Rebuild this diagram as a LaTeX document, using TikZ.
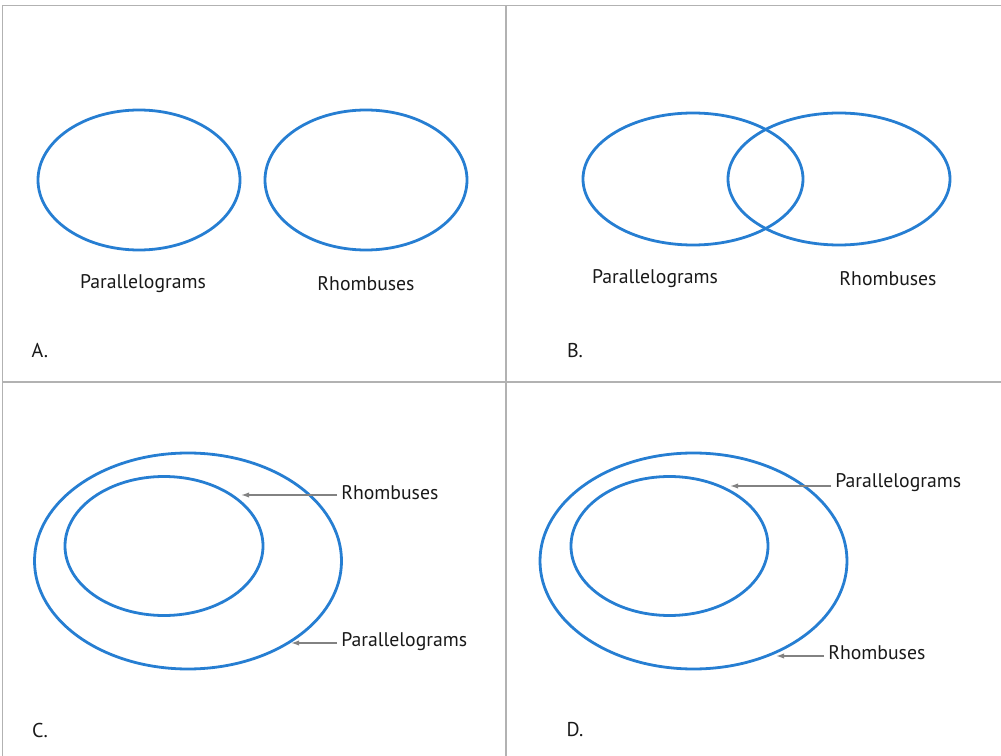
\documentclass[tikz,border=0pt]{standalone}
\usepackage{fontspec}
\setmainfont{PT Sans}
\usetikzlibrary{arrows.meta,positioning}

\definecolor{vennblue}{RGB}{38,126,210}
\definecolor{panelgray}{RGB}{178,178,178}
\definecolor{pointergray}{RGB}{130,130,130}

\begin{document}
\begin{tikzpicture}[x=0.75pt,y=-0.75pt,>=Latex,
    venn/.style={draw=vennblue,line width=2.1pt},
    panelline/.style={draw=panelgray,line width=1.1pt},
    setlabel/.style={font=\fontsize{14.8}{17}\selectfont,text=black!90,inner sep=3pt},
    panelletter/.style={font=\fontsize{15}{17}\selectfont,text=black!90,inner sep=1pt},
    pointer/.style={draw=pointergray,line width=1.1pt,-{Latex[length=6pt,width=4pt]}}]
  \useasboundingbox (0,0) rectangle (1001,756);

  % panel frame
  \draw[panelline] (2.5,756) -- (2.5,5.5) -- (1001,5.5);
  \draw[panelline] (506,5.5) -- (506,756);
  \draw[panelline] (2.5,382) -- (1001,382);

  % A: disjoint sets
  \draw[venn] (139,180) ellipse[x radius=101,y radius=70];
  \draw[venn] (366,180) ellipse[x radius=101,y radius=70];
  \node[setlabel] (paraA) at (143,284) {Parallelograms};
  \node[setlabel] (rhomA) at (366,284) {Rhombuses};
  \node[panelletter] (letA) at (40,351) {A.};

  % B: overlapping sets
  \draw[venn] (693,179) ellipse[x radius=110,y radius=66];
  \draw[venn] (839,179) ellipse[x radius=111,y radius=66];
  \node[setlabel] (paraB) at (655,279) {Parallelograms};
  \node[setlabel] (rhomB) at (888,279) {Rhombuses};
  \node[panelletter] (letB) at (575,351) {B.};

  % C: rhombuses inside parallelograms
  \draw[venn] (188,561) ellipse[x radius=153.5,y radius=108];
  \draw[venn] (164,546) ellipse[x radius=99,y radius=69.5];
  \node[setlabel,anchor=west] (rhomC) at (337,493) {Rhombuses};
  \node[setlabel,anchor=west] (paraC) at (337,642) {Parallelograms};
  \coordinate (tipRC) at (241,495);
  \coordinate (tipPC) at (291,643);
  \draw[pointer] (rhomC.west |- tipRC) -- (tipRC);
  \draw[pointer] (paraC.west |- tipPC) -- (tipPC);
  \node[panelletter] (letC) at (40,730) {C.};

  % D: parallelograms inside rhombuses
  \draw[venn] (693.5,561) ellipse[x radius=153.5,y radius=108];
  \draw[venn] (669.5,546) ellipse[x radius=98.5,y radius=69.5];
  \node[setlabel,anchor=west] (paraD) at (831,483) {Parallelograms};
  \node[setlabel,anchor=west] (rhomD) at (824,653) {Rhombuses};
  \coordinate (tipPD) at (730,486);
  \coordinate (tipRD) at (776,656);
  \draw[pointer] (paraD.west |- tipPD) -- (tipPD);
  \draw[pointer] (rhomD.west |- tipRD) -- (tipRD);
  \node[panelletter] (letD) at (575,730) {D.};
\end{tikzpicture}
\end{document}
